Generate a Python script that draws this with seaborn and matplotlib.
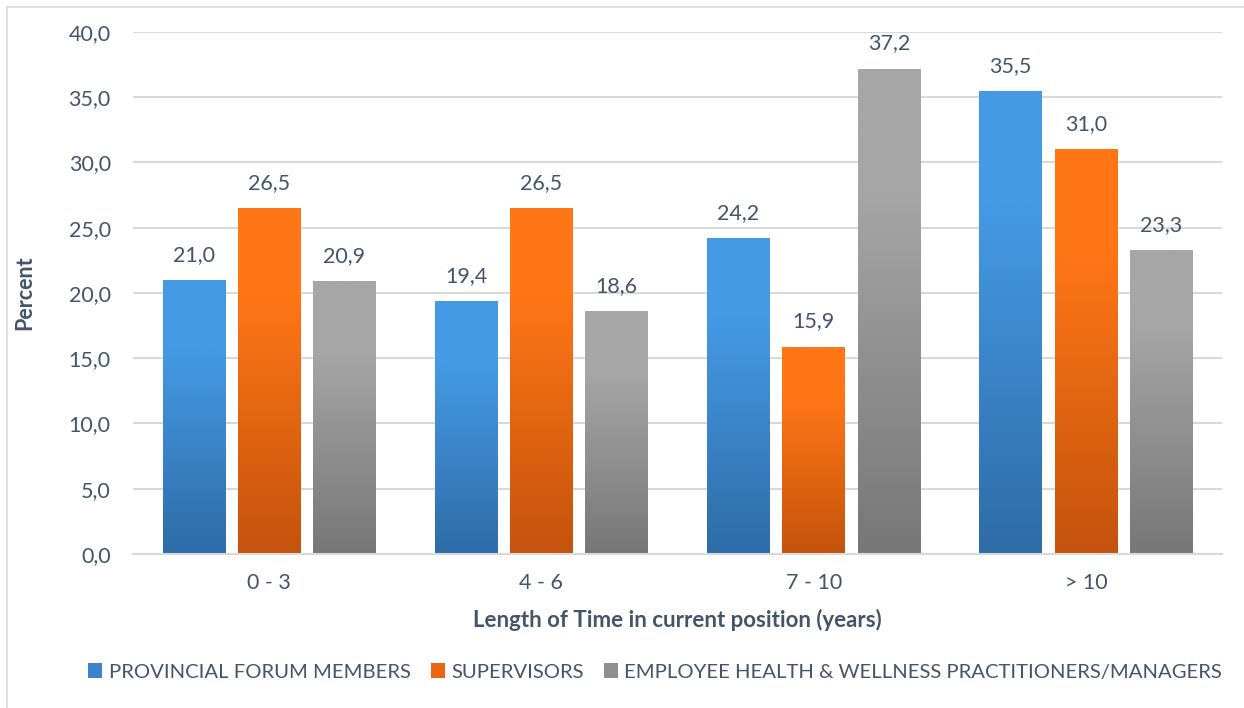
import numpy as np
import pandas as pd
import matplotlib
matplotlib.use("Agg")
import matplotlib.pyplot as plt
import seaborn as sns
from matplotlib.colors import LinearSegmentedColormap
from matplotlib.patches import Patch
from matplotlib.lines import Line2D

categories = ["0 - 3", "4 - 6", "7 - 10", "> 10"]
series_names = ["PROVINCIAL FORUM MEMBERS", "SUPERVISORS",
                "EMPLOYEE HEALTH & WELLNESS PRACTITIONERS/MANAGERS"]
provincial = [21.0, 19.4, 24.2, 35.5]
supervisors = [26.5, 26.5, 15.9, 31.0]
ehw = [20.9, 18.6, 37.2, 23.3]
yticks = [0, 5, 10, 15, 20, 25, 30, 35, 40]

top_colors = ["#459AE4", "#FF7616", "#A6A6A6"]
bot_colors = ["#2E6CA7", "#C4530D", "#777777"]
mid_colors = ["#3B84CC", "#EC6512", "#8F8F8F"]
text_color = "#44546A"
grid_color = "#D9D9D9"

df = pd.DataFrame({
    "cat": categories * 3,
    "series": sum([[s] * 4 for s in series_names], []),
    "val": provincial + supervisors + ehw,
})

sns.set_theme(style="white")
plt.rcParams["font.family"] = ["Lato", "DejaVu Sans"]

fig = plt.figure(figsize=(12.44, 7.08), dpi=100)
ax = fig.add_axes([133 / 1244, 1 - 554 / 708, (1222 - 133) / 1244, (554 - 32) / 708])

sns.barplot(data=df, x="cat", y="val", hue="series", order=categories,
            hue_order=series_names, palette=mid_colors, width=0.83, gap=0.17,
            ax=ax, legend=False, saturation=1)

ax.set_ylim(0, 40)
ax.set_xlim(-0.5, 3.5)
ax.set_yticks(yticks)
ax.set_yticklabels([f"{v:.1f}".replace(".", ",") for v in yticks])

for spine in ["top", "right", "left"]:
    ax.spines[spine].set_visible(False)
ax.spines["bottom"].set_color(grid_color)
ax.spines["bottom"].set_linewidth(1.5)
ax.yaxis.grid(True, color=grid_color, linewidth=1.5)
ax.set_axisbelow(True)
ax.tick_params(axis="both", length=0, labelsize=15.5, colors=text_color)
ax.tick_params(axis="y", pad=16)
ax.tick_params(axis="x", pad=14)

ax.set_xlabel("Length of Time in current position (years)", fontsize=16,
              fontweight="bold", color=text_color, labelpad=11)
ax.set_ylabel("Percent", fontsize=15.5, fontweight="bold", color=text_color, labelpad=24)

# gradient fill + labels
for i, cont in enumerate(ax.containers):
    cmap = LinearSegmentedColormap.from_list(
        f"g{i}", [(0, bot_colors[i]), (0.75, top_colors[i]), (1, top_colors[i])])
    grad = np.linspace(1, 0, 256).reshape(-1, 1)
    for bar in cont:
        x0, w = bar.get_x(), bar.get_width()
        h = bar.get_height()
        bar.set_facecolor("none")
        bar.set_edgecolor("none")
        im = ax.imshow(grad, cmap=cmap, aspect="auto", extent=[x0, x0 + w, 0, h],
                       origin="upper", zorder=2, vmin=0, vmax=1)
        im.set_clip_path(bar)
        ax.annotate(f"{h:.1f}".replace(".", ","), (x0 + w / 2, h),
                    xytext=(0, 18), textcoords="offset points", ha="center",
                    va="center", fontsize=15.5, color=text_color)
ax.set_xlim(-0.5, 3.5)
ax.set_ylim(0, 40)

handles = [Patch(facecolor=mid_colors[i], edgecolor="none", label=series_names[i])
           for i in range(3)]
fig.legend(handles=handles, loc="center", bbox_to_anchor=(655 / 1244, 1 - 672 / 708),
           ncol=3, frameon=False, fontsize=14.6, labelcolor=text_color,
           handlelength=0.7, handleheight=0.7, handletextpad=0.3, columnspacing=1.0)

# outer border (left & top)
fig.add_artist(Line2D([7 / 1244, 7 / 1244], [0, 1 - 7 / 708], transform=fig.transFigure,
                      color="#D9D9D9", linewidth=1.2))
fig.add_artist(Line2D([7 / 1244, 1], [1 - 7 / 708, 1 - 7 / 708], transform=fig.transFigure,
                      color="#D9D9D9", linewidth=1.2))

fig.savefig("out.png", dpi=100)
